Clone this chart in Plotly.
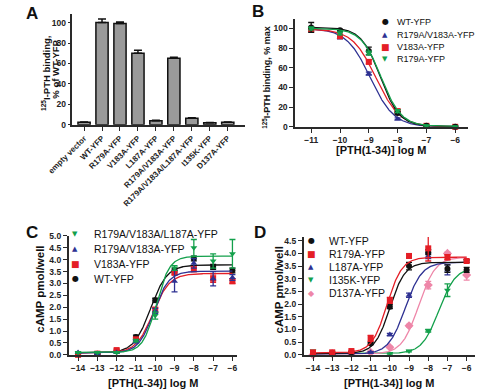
import numpy as np
import plotly.graph_objects as go

# ---------------- data ----------------
# Panel A: 125I-PTH binding, % of WT-YFP
a_categories = ["empty vector", "WT-YFP", "R179A-YFP", "V183A-YFP", "L187A-YFP",
                "R179A/V183A-YFP", "R179A/V183A/L187A-YFP", "I135K-YFP", "D137A-YFP"]
a_binding = [2.5, 100, 99, 70, 4, 65, 6.5, 2, 2.5]
a_sem = [0.3, 3.5, 1.5, 3, 0.4, 1, 0.5, 0.3, 0.3]

# Panel B: competition binding (% max) vs log[PTH(1-34)]
b_log_dose = [-11, -10, -9, -8, -7, -6]
b_wt = [101, 98, 77, 14, 1, 0]
b_wt_sem = [5, 1, 4, 1.5, 0.5, 0.5]
b_r179a_v183a = [100, 91, 54, 8, 0.5, 0]
b_r179a_v183a_sem = [1.5, 1.5, 1.5, 1, 0.5, 0.5]
b_v183a = [99, 92, 66, 16, 1, 0]
b_v183a_sem = [2, 1.5, 2, 1.5, 0.5, 0.5]
b_r179a = [100, 95, 75, 16, 1, 0]
b_r179a_sem = [1.5, 1.5, 2, 1.5, 0.5, 0.5]
# fitted curves: [bottom, top, logIC50, hill]
b_wt_fit = [0.5, 101, -8.6, 1.3]
b_r179a_v183a_fit = [0, 100, -8.95, 1.05]
b_v183a_fit = [0, 99.5, -8.75, 1.05]
b_r179a_fit = [0.5, 100, -8.57, 1.25]

# Panel C: cAMP pmol/well
c_log_dose = [-14, -13, -12, -11, -10, -9, -8, -7, -6]
c_triple = [0.1, 0.1, 0.1, 0.6, 1.65, 3.65, 4.5, 3.95, 4.25]
c_triple_sem = [0.03, 0.03, 0.03, 0.05, 0.15, 0.1, 0.35, 0.3, 0.6]
c_r179a_v183a = [0.1, 0.05, 0.1, 0.55, 1.85, 3.1, 3.85, 3.2, 3.25]
c_r179a_v183a_sem = [0.03, 0.03, 0.03, 0.05, 0.1, 0.45, 0.2, 0.3, 0.12]
c_v183a = [0.0, 0.05, 0.2, 0.65, 1.9, 3.45, 3.6, 3.2, 3.1]
c_v183a_sem = [0.03, 0.03, 0.05, 0.08, 0.1, 0.08, 0.1, 0.15, 0.1]
c_wt = [0.05, 0.05, 0.15, 0.75, 2.3, 3.55, 4.05, 3.7, 3.55]
c_wt_sem = [0.03, 0.03, 0.05, 0.08, 0.08, 0.1, 0.1, 0.1, 0.1]
# fitted curves: [bottom, top, logEC50, hill]
c_triple_fit = [0.1, 4.15, -9.95, 1.25]
c_r179a_v183a_fit = [0.08, 3.52, -10.08, 1.1]
c_v183a_fit = [0.08, 3.42, -10.12, 1.0]
c_wt_fit = [0.08, 3.78, -10.25, 1.0]

# Panel D: cAMP pmol/well
d_log_dose = [-14, -13, -12, -11, -10, -9, -8, -7, -6]
d_wt = [0.05, 0.05, 0.1, 0.45, 1.9, 3.5, 4.05, 3.4, 3.35]
d_wt_sem = [0.03, 0.03, 0.03, 0.05, 0.08, 0.15, 0.1, 0.15, 0.1]
d_r179a = [0.1, 0.1, 0.15, 0.65, 2.15, 3.9, 4.2, 3.85, 3.7]
d_r179a_sem = [0.03, 0.03, 0.03, 0.12, 0.12, 0.08, 0.5, 0.1, 0.05]
d_l187a = [0.0, 0.05, 0.0, 0.1, 0.8, 2.35, 3.9, 3.35, 3.7]
d_l187a_sem = [0.03, 0.03, 0.03, 0.03, 0.05, 0.08, 0.1, 0.2, 0.05]
d_i135k = [0.15, 0.1, 0.05, 0.1, 0.05, 0.15, 0.95, 2.55, 3.7]
d_i135k_sem = [0.03, 0.03, 0.03, 0.03, 0.03, 0.03, 0.05, 0.25, 0.05]
d_d137a = [0.0, 0.05, 0.05, 0.1, 0.3, 1.15, 2.75, 4.0, 3.15]
d_d137a_sem = [0.03, 0.03, 0.03, 0.03, 0.03, 0.05, 0.15, 0.05, 0.2]
d_wt_fit = [0.05, 3.65, -10.0, 1.1]
d_r179a_fit = [0.08, 3.85, -10.15, 1.1]
d_l187a_fit = [0.03, 3.65, -9.2, 1.0]
d_i135k_fit = [0.05, 3.45, -7.45, 1.0]
d_d137a_fit = [0.03, 3.85, -8.5, 1.0]

# ---------------- style ----------------
W, H = 477, 392
FONT = "Liberation Sans, Arial, sans-serif"
AX = "#2a2a2a"
BLACK = "#111111"
BLUE = "#2E3192"
RED = "#E41E26"
GREEN = "#13A04B"
PINK = "#EE86A8"


def px(x):
    return x / W


def py(y):
    return 1 - y / H


def curve(params, x0, x1, rising):
    bottom, top, logc, hill = params
    x = np.linspace(x0, x1, 300)
    if rising:
        y = bottom + (top - bottom) / (1 + 10 ** (hill * (logc - x)))
    else:
        y = bottom + (top - bottom) / (1 + 10 ** (hill * (x - logc)))
    return x, y


fig = go.Figure()

# Panel A bars
fig.add_trace(go.Bar(
    x=a_categories, y=a_binding, width=0.68,
    marker=dict(color="#9a9a9a", line=dict(color="#111111", width=1.5)),
    error_y=dict(type="data", array=a_sem, arrayminus=[0] * len(a_sem), symmetric=False,
                 color="#111111", thickness=1.5, width=4),
    xaxis="x", yaxis="y", showlegend=False, cliponaxis=False))


def add_series(xs, ys, err, fit, color, symbol, size, xa, ya, x0, x1, rising, lw=1.3):
    cx, cy = curve(fit, x0, x1, rising)
    fig.add_trace(go.Scatter(x=cx, y=cy, mode="lines", line=dict(color=color, width=lw),
                             xaxis=xa, yaxis=ya, showlegend=False, hoverinfo="skip"))
    fig.add_trace(go.Scatter(x=xs, y=ys, mode="markers",
                             marker=dict(color=color, symbol=symbol, size=size, line=dict(width=0)),
                             error_y=dict(type="data", array=err, color=color, thickness=1.3, width=3),
                             xaxis=xa, yaxis=ya, showlegend=False, cliponaxis=False))


# Panel B
add_series(b_log_dose, b_r179a_v183a, b_r179a_v183a_sem, b_r179a_v183a_fit, BLUE, "triangle-up", 6, "x2", "y2", -11, -6, False)
add_series(b_log_dose, b_v183a, b_v183a_sem, b_v183a_fit, RED, "square", 6, "x2", "y2", -11, -6, False)
add_series(b_log_dose, b_wt, b_wt_sem, b_wt_fit, BLACK, "circle", 6, "x2", "y2", -11, -6, False)
add_series(b_log_dose, b_r179a, b_r179a_sem, b_r179a_fit, GREEN, "triangle-down", 6, "x2", "y2", -11, -6, False)

# Panel C
add_series(c_log_dose, c_wt, c_wt_sem, c_wt_fit, BLACK, "circle", 6, "x3", "y3", -14, -6, True)
add_series(c_log_dose, c_v183a, c_v183a_sem, c_v183a_fit, RED, "square", 6, "x3", "y3", -14, -6, True)
add_series(c_log_dose, c_r179a_v183a, c_r179a_v183a_sem, c_r179a_v183a_fit, BLUE, "triangle-up", 6, "x3", "y3", -14, -6, True)
add_series(c_log_dose, c_triple, c_triple_sem, c_triple_fit, GREEN, "triangle-down", 6, "x3", "y3", -14, -6, True)

# Panel D
add_series(d_log_dose, d_i135k, d_i135k_sem, d_i135k_fit, GREEN, "triangle-down", 6, "x4", "y4", -14, -6, True)
add_series(d_log_dose, d_d137a, d_d137a_sem, d_d137a_fit, PINK, "diamond", 7, "x4", "y4", -14, -6, True)
add_series(d_log_dose, d_l187a, d_l187a_sem, d_l187a_fit, BLUE, "triangle-up", 6, "x4", "y4", -14, -6, True)
add_series(d_log_dose, d_wt, d_wt_sem, d_wt_fit, BLACK, "circle", 6, "x4", "y4", -14, -6, True)
add_series(d_log_dose, d_r179a, d_r179a_sem, d_r179a_fit, RED, "square", 6, "x4", "y4", -14, -6, True)


def axis(**kw):
    base = dict(showline=True, linecolor=AX, linewidth=1.5, ticks="outside", ticklen=4,
                tickwidth=1.2, tickcolor=AX, showgrid=False, zeroline=False, fixedrange=True,
                tickfont=dict(family=FONT, size=8.5, color="#222222", weight="bold"))
    base.update(kw)
    return base


fig.update_layout(
    width=W, height=H, margin=dict(l=0, r=0, t=0, b=0),
    paper_bgcolor="white", plot_bgcolor="white", showlegend=False,
    xaxis=axis(domain=[px(50), px(232)], anchor="y", type="category",
               categoryorder="array", categoryarray=a_categories,
               range=[-0.65, 8.95], tickangle=-45,
               tickfont=dict(family=FONT, size=8, color="#222222", weight="bold")),
    yaxis=axis(domain=[py(123), py(9.6)], anchor="x", range=[0, 108], ticklen=3,
               tickvals=[0, 20, 40, 60, 80, 100]),
    xaxis2=axis(domain=[px(285), px(468)], anchor="y2", range=[-11.56, -5.54],
                tickvals=b_log_dose),
    yaxis2=axis(domain=[py(125), py(13.9)], anchor="x2", range=[0, 110],
                tickvals=[0, 20, 40, 60, 80, 100]),
    xaxis3=axis(domain=[px(46), px(224)], anchor="y3", range=[-14.49, -5.75],
                tickvals=c_log_dose),
    yaxis3=axis(domain=[py(359), py(237)], anchor="x3", range=[0, 5.0],
                tickvals=[0, 0.5, 1, 1.5, 2, 2.5, 3, 3.5, 4, 4.5, 5], tickformat=".1f"),
    xaxis4=axis(domain=[px(294), px(475)], anchor="y4", range=[-14.49, -5.56],
                tickvals=d_log_dose),
    yaxis4=axis(domain=[py(359), py(238)], anchor="x4", range=[0, 4.65],
                tickvals=[0, 0.5, 1, 1.5, 2, 2.5, 3, 3.5, 4, 4.5], tickformat=".1f"),
)

anns = []


def text(x, y, s, size, bold=False, color="#111111", xanchor="center", angle=0, family=FONT):
    f = dict(family=family, size=size, color=color)
    if bold:
        f["weight"] = "bold"
    anns.append(dict(x=px(x), y=py(y), xref="paper", yref="paper", text=s, showarrow=False,
                     xanchor=xanchor, yanchor="middle", textangle=angle, font=f, borderpad=0))


# panel letters
text(7, 9, "A", 17, bold=True)
text(246, 7, "B", 17, bold=True)
text(7, 233, "C", 17, bold=True)
text(248, 233, "D", 17, bold=True)

# axis titles
text(22, 70, "<sup>125</sup>I-PTH binding,", 9.5, bold=True, angle=-90)
text(32, 66, "% of WT-YFP", 9.5, bold=True, angle=-90)
text(255, 74, "<sup>125</sup>I-PTH binding, % max", 9, bold=True, angle=-90)
text(376, 149, "[PTH(1-34)] log M", 11, bold=True)
text(15, 292, "cAMP pmol/well", 11.5, bold=True, angle=-90)
text(135, 388, "[PTH(1-34)] log M", 11, bold=True)
text(268, 292, "cAMP pmol/well", 11.5, bold=True, angle=-90)
text(384, 388, "[PTH(1-34)] log M", 11, bold=True)

GLYPH = "DejaVu Sans"
glyphs = {"circle": ("\u25CF", 8), "square": ("\u25A0", 9), "up": ("\u25B2", 7),
          "down": ("\u25BC", 7), "diamond": ("\u25C6", 8)}


def legend_row(gx, tx, y, g, color, label, size):
    ch, gs = glyphs[g]
    text(gx, y, ch, gs, color=color, family=GLYPH)
    text(tx, y, label, size, xanchor="left")


# Panel B legend
legend_row(380, 391, 17, "circle", BLACK, "WT-YFP", 9)
legend_row(380, 391, 30.5, "up", BLUE, "R179A/V183A-YFP", 9)
legend_row(380, 391, 43, "square", RED, "V183A-YFP", 9)
legend_row(380, 391, 55, "down", GREEN, "R179A-YFP", 9)

# Panel C legend
legend_row(53, 72, 235, "down", GREEN, "R179A/V183A/L187A-YFP", 10.5)
legend_row(53, 72, 250, "up", BLUE, "R179A/V183A-YFP", 10.5)
legend_row(53, 72, 265.5, "square", RED, "V183A-YFP", 10.5)
legend_row(53, 72, 281, "circle", BLACK, "WT-YFP", 10.5)

# Panel D legend
legend_row(302, 320, 242, "circle", BLACK, "WT-YFP", 10.5)
legend_row(302, 320, 255.5, "square", RED, "R179A-YFP", 10.5)
legend_row(302, 320, 269, "up", BLUE, "L187A-YFP", 10.5)
legend_row(302, 320, 282.5, "down", GREEN, "I135K-YFP", 10.5)
legend_row(302, 320, 296, "diamond", PINK, "D137A-YFP", 10.5)

fig.update_layout(annotations=anns)

fig.write_html("out.html", config={"displayModeBar": False},
               post_script="document.body.style.margin='0';document.body.style.overflow='hidden';")
